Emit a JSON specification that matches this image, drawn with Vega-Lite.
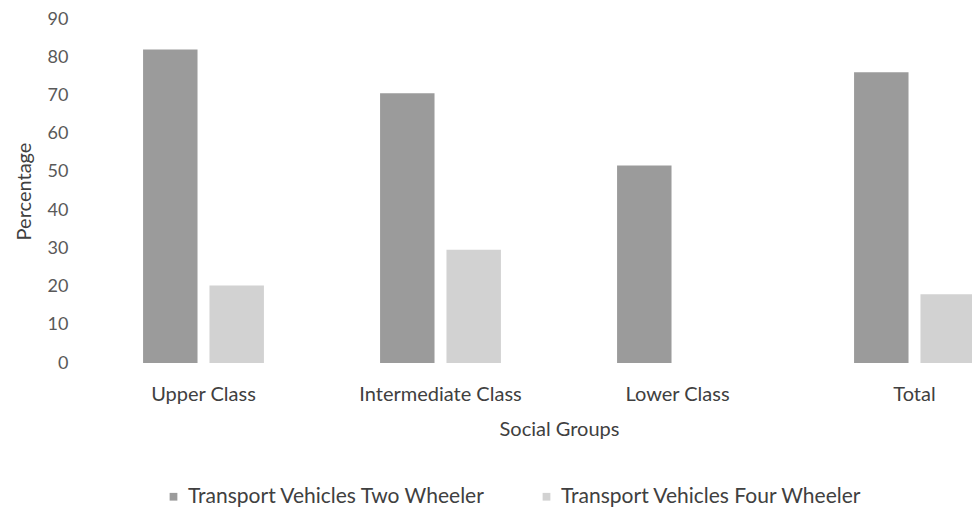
{
  "$schema": "https://vega.github.io/schema/vega-lite/v6.json",
  "width": 948,
  "height": 344,
  "padding": {"left": 14, "top": 10, "right": 0, "bottom": 0},
  "background": "white",
  "config": {
    "view": {"stroke": null},
    "font": "Lato"
  },
  "data": {
    "values": [
      {"group": "Upper Class", "series": "Transport Vehicles Two Wheeler", "value": 82},
      {"group": "Upper Class", "series": "Transport Vehicles Four Wheeler", "value": 20.3},
      {"group": "Intermediate Class", "series": "Transport Vehicles Two Wheeler", "value": 70.6},
      {"group": "Intermediate Class", "series": "Transport Vehicles Four Wheeler", "value": 29.6},
      {"group": "Lower Class", "series": "Transport Vehicles Two Wheeler", "value": 51.7},
      {"group": "Lower Class", "series": "Transport Vehicles Four Wheeler", "value": 0},
      {"group": "Total", "series": "Transport Vehicles Two Wheeler", "value": 76.1},
      {"group": "Total", "series": "Transport Vehicles Four Wheeler", "value": 18}
    ]
  },
  "mark": {"type": "bar"},
  "encoding": {
    "x": {
      "field": "group",
      "type": "nominal",
      "sort": ["Upper Class", "Intermediate Class", "Lower Class", "Total"],
      "scale": {"paddingInner": 0.49, "paddingOuter": 0.245},
      "axis": {
        "title": "Social Groups",
        "labelAngle": 0,
        "ticks": false,
        "domain": false,
        "labelPadding": 21,
        "labelFontSize": 20,
        "labelColor": "#404040",
        "titleFontSize": 20,
        "titleFontWeight": "normal",
        "titleColor": "#404040",
        "titlePadding": 15
      }
    },
    "xOffset": {
      "field": "series",
      "type": "nominal",
      "sort": ["Transport Vehicles Two Wheeler", "Transport Vehicles Four Wheeler"],
      "scale": {"paddingInner": 0.18}
    },
    "y": {
      "field": "value",
      "type": "quantitative",
      "scale": {"domain": [0, 90], "nice": false},
      "axis": {
        "title": "Percentage",
        "values": [0, 10, 20, 30, 40, 50, 60, 70, 80, 90],
        "grid": false,
        "ticks": false,
        "domain": false,
        "labelPadding": 17,
        "labelFontSize": 18,
        "labelColor": "#595959",
        "titleFontSize": 20,
        "titleFontWeight": "normal",
        "titleColor": "#404040",
        "titlePadding": 13
      }
    },
    "color": {
      "field": "series",
      "type": "nominal",
      "sort": ["Transport Vehicles Two Wheeler", "Transport Vehicles Four Wheeler"],
      "scale": {"range": ["#9b9b9b", "#d2d2d2"]},
      "legend": {
        "title": null,
        "orient": "none",
        "direction": "horizontal",
        "legendX": 78,
        "legendY": 467,
        "symbolType": "square",
        "symbolSize": 60,
        "labelFontSize": 21,
        "labelColor": "#404040",
        "labelLimit": 400,
        "columnPadding": 50,
        "labelOffset": 4
      }
    }
  }
}
